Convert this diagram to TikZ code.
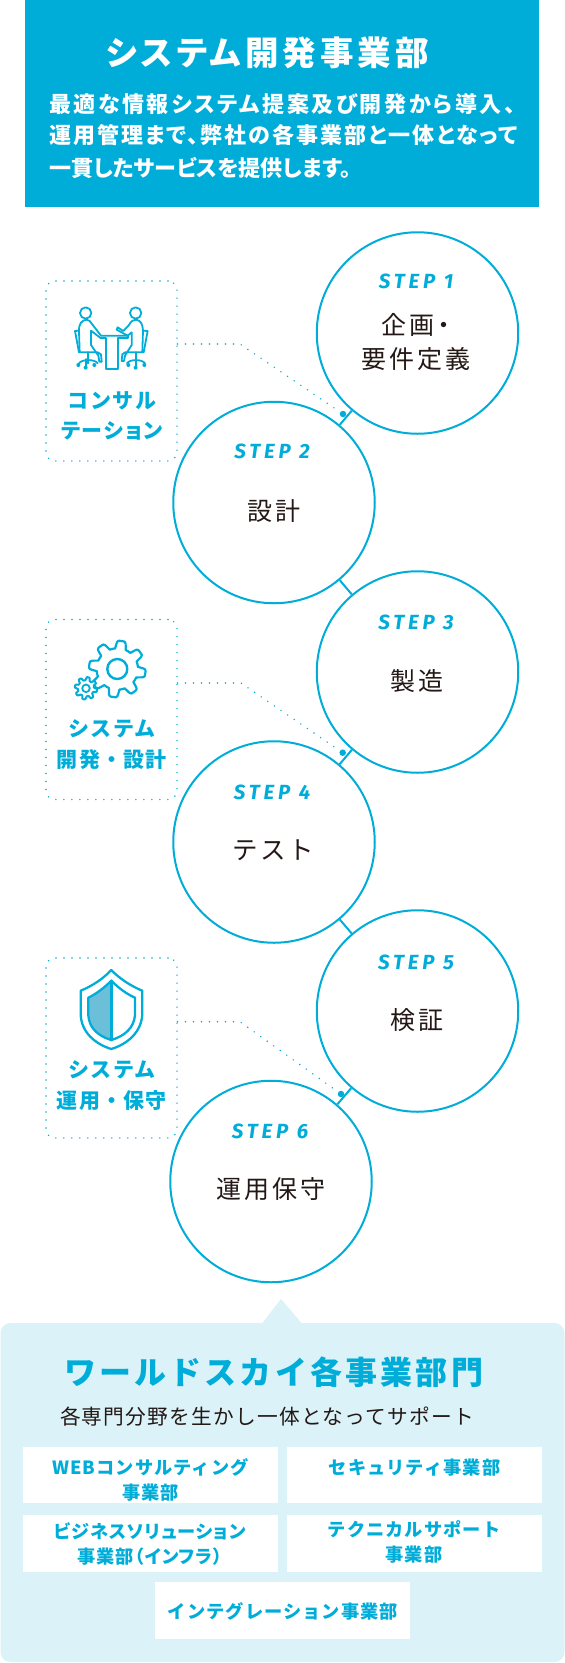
\documentclass[tikz,border=0pt]{standalone}
\usepackage{fontspec}
\setmainfont{Noto Sans CJK JP}
\newfontfamily\jpA[LetterSpace=6]{Noto Sans CJK JP}
\newfontfamily\jpB[LetterSpace=10]{Noto Sans CJK JP}
\newfontfamily\jpC[LetterSpace=8,RawFeature={+palt}]{Noto Sans CJK JP}
\newfontfamily\jpD[LetterSpace=12,RawFeature={+palt}]{Noto Sans CJK JP}
\newfontfamily\jpE[LetterSpace=11.5,RawFeature={+palt}]{Noto Sans CJK JP}
\newfontfamily\jpF[LetterSpace=9,RawFeature={+palt}]{Noto Sans CJK JP}
\newfontfamily\jpG[LetterSpace=0.5,RawFeature={+palt}]{Noto Sans CJK JP}
\newfontfamily\jpH[LetterSpace=5,RawFeature={+palt}]{Noto Sans CJK JP}
\newfontfamily\stepf[LetterSpace=19]{Fira Sans}
\definecolor{wcyan}{HTML}{00ADD9}
\definecolor{wpale}{HTML}{DAF2F8}
\definecolor{wink}{HTML}{231815}
\definecolor{wshield}{HTML}{6BBFD8}
\tikzset{
  stepcircle/.style={circle,draw=wcyan,line width=2pt,fill=white,minimum size=201.5pt,inner sep=0},
  steptag/.style={text=wcyan,font=\stepf\bfseries\itshape\fontsize{20.5}{24}\selectfont,inner sep=0},
  steptext/.style={text=wink,align=center,font=\jpD\fontsize{25}{34}\selectfont,inner sep=0},
  dotbox/.style={draw=wcyan,line width=1.6pt,line cap=round,dash pattern=on 0pt off 8pt,rounded corners=9pt,minimum width=131pt,minimum height=180pt,inner sep=0},
  dotline/.style={draw=wcyan,line width=1.6pt,line cap=round,dash pattern=on 0pt off 8pt},
  enddot/.style={circle,fill=wcyan,minimum size=6.5pt,inner sep=0},
  linkline/.style={draw=wcyan,line width=2pt},
  boxtext/.style={text=wcyan,align=center,font=\jpA\bfseries\fontsize{21}{30.5}\selectfont,inner sep=0},
  iconline/.style={draw=wcyan,line width=1.8pt,line join=round,line cap=round},
  whitebox/.style={fill=white,minimum width=255pt,minimum height=56.5pt,inner sep=0},
  depttext/.style={text=wcyan,align=center,font=\jpA\bfseries\fontsize{18.2}{25}\selectfont,inner sep=0},
  introtext/.style={text=white,align=left,anchor=west,font=\bfseries\fontsize{22}{32}\selectfont,inner sep=0},
}
\begin{document}
\begin{tikzpicture}[x=1pt,y=-1pt]
\useasboundingbox (0,0) rectangle (565,1663);
% header
\fill[wcyan] (25,0) rectangle (539,207);
\node[text=white,font=\jpD\bfseries\fontsize{33.5}{36}\selectfont,inner sep=0] (title) at (267.5,53) {システム開発事業部};
\node[introtext] (intro1) at (49,104.5) {\jpE\bfseries 最適な情報システム提案及び開発から導入、};
\node[introtext] (intro2) at (49,135.5) {\jpF\bfseries 運用管理まで、弊社の各事業部と一体となって};
\node[introtext] (intro3) at (49,167.5) {\jpG\bfseries 一貫したサービスを提供します。};
% circles
\node[stepcircle] (s1) at (417.5,333) {};
\node[stepcircle] (s2) at (274,502.5) {};
\node[stepcircle] (s3) at (417.5,672) {};
\node[stepcircle] (s4) at (274,842) {};
\node[stepcircle] (s5) at (417.5,1011) {};
\node[stepcircle] (s6) at (271,1181.5) {};
\draw[linkline] (s1) -- (s2);
\draw[linkline] (s2) -- (s3);
\draw[linkline] (s3) -- (s4);
\draw[linkline] (s4) -- (s5);
\draw[linkline] (s5) -- (s6);
\node[steptag] (t1) at (416,281.5) {STEP 1};
\node[steptag] (t2) at (272,451.5) {STEP 2};
\node[steptag] (t3) at (416,622.5) {STEP 3};
\node[steptag] (t4) at (272,792) {STEP 4};
\node[steptag] (t5) at (416,962) {STEP 5};
\node[steptag] (t6) at (270,1131) {STEP 6};
\node[steptext] (x1) at (416,342) {企画・\\要件定義};
\node[steptext] (x2) at (274,511.5) {設計};
\node[steptext] (x3) at (417,681) {製造};
\node[steptext,font=\jpB\fontsize{25.5}{34}\selectfont] (x4) at (273.5,850.5) {テスト};
\node[steptext] (x5) at (417,1020.5) {検証};
\node[steptext] (x6) at (271,1189.5) {運用保守};
% dotted boxes
\node[dotbox] (b1) at (111.5,371) {};
\node[dotbox] (b2) at (111.5,709.5) {};
\node[dotbox] (b3) at (111.5,1048) {};
\coordinate (l1) at (177.5,344);
\coordinate (k1) at (240,344);
\node[enddot] (d1) at (343,414) {};
\coordinate (l2) at (177.5,683);
\coordinate (k2) at (241,683);
\node[enddot] (d2) at (342.7,752.7) {};
\coordinate (l3) at (177.5,1021.7);
\coordinate (k3) at (240,1021.7);
\node[enddot] (d3) at (341,1094) {};
\draw[dotline] (l1) -- (k1) -- (d1);
\draw[dotline] (l2) -- (k2) -- (d2);
\draw[dotline] (l3) -- (k3) -- (d3);
\node[boxtext] (c1) at (112,416) {{\jpD\bfseries コンサル}\\{\jpC\bfseries テーション}};
\node[boxtext] (c2) at (112,744.5) {{\jpD\bfseries\addfontfeature{LetterSpace=14} システム}\\開発・設計};
\node[boxtext] (c3) at (112,1085.5) {{\jpD\bfseries\addfontfeature{LetterSpace=14} システム}\\運用・保守};
% people icon (coordinates in 1/3 px of the crop at 65,295)
\begin{scope}[shift={(65,295)},x=0.3333pt,y=-0.3333pt,iconline]
  \draw (62,54) circle (17);
  \draw (212,54) circle (17);
  % left person
  \draw (42,107) .. controls (42,85) and (50,76) .. (65,74) -- (74,78) -- (108,122) -- (188,122);
  \draw (42,107) -- (44,172) -- (98,172) -- (108,178) -- (110,200) -- (103,200) -- (100,182) -- (78,150) -- (78,107) -- (108,130);
  \draw (42,107) -- (30,108) -- (42,172);
  \draw (70,172) -- (70,205);
  \draw (42,205) .. controls (50,192) and (90,192) .. (98,205);
  \draw (62,192) -- (62,218);
  \fill[wcyan] (40,210) circle (6) (62,218) circle (6) (88,210) circle (6);
  % table
  \draw (108,130) -- (122,130) -- (122,222) -- (158,222) -- (158,130) -- (188,130) -- (188,122);
  % right person
  \draw (158,97) -- (175,108) -- (192,90) .. controls (198,78) and (205,74) .. (213,74) .. controls (228,76) and (233,88) .. (234,107);
  \draw (158,97) -- (155,104) -- (188,122);
  \draw (234,107) -- (232,172) -- (180,172) -- (172,178) -- (170,198) -- (177,198) -- (180,182) -- (200,150) -- (200,112) -- (188,122);
  \draw (234,107) -- (248,108) -- (236,172);
  \draw (212,172) -- (212,205);
  \draw (186,205) .. controls (194,192) and (232,192) .. (240,205);
  \draw (212,192) -- (212,218);
  \fill[wcyan] (190,210) circle (6) (212,218) circle (6) (238,210) circle (6);
\end{scope}
% gears
\begin{scope}[shift={(117.3,669)}]
  \draw[iconline,line width=2.2pt] plot[smooth cycle,domain=0:357,samples=120,variable=\t] ({(24.5+3.8*max(-1,min(1,2.2*sin(8*\t+20))))*cos(\t)},{(24.5+3.8*max(-1,min(1,2.2*sin(8*\t+20))))*sin(\t)});
  \draw[iconline,line width=2.4pt] (0,0) circle (10);
\end{scope}
\begin{scope}[shift={(86,688.3)}]
  \draw[iconline,line width=2pt,fill=white] plot[smooth cycle,domain=0:355,samples=72,variable=\t] ({(9.6+1.6*max(-1,min(1,2.2*sin(8*\t))))*cos(\t)},{(9.6+1.6*max(-1,min(1,2.2*sin(8*\t))))*sin(\t)});
  \draw[iconline,line width=1.8pt] (0,0) circle (3.8);
\end{scope}
% shield
\fill[wshield] (111.3,980.7) .. controls (104,988) and (96,994) .. (88.3,997.7) -- (88.3,1015) .. controls (89,1028) and (98,1036) .. (111.3,1040) -- cycle;
\draw[iconline,line width=2.3pt] (111.3,970) .. controls (103,979) and (92,986) .. (80.7,990.7) -- (80.7,1014) .. controls (81,1032) and (95,1044) .. (111.3,1049) .. controls (127.6,1044) and (141.6,1032) .. (142.3,1014) -- (142.3,990.7) .. controls (131,986) and (120,979) .. (111.3,970) -- cycle;
\draw[iconline,line width=2.3pt] (111.3,980.7) .. controls (104,988) and (96,994) .. (88.3,997.7) -- (88.3,1015) .. controls (89,1028) and (98,1036) .. (111.3,1040) .. controls (124.6,1036) and (134,1028) .. (135,1015) -- (135,997.7) .. controls (126.6,994) and (118.6,988) .. (111.3,980.7) -- cycle;
\draw[iconline,line width=2.8pt] (111.3,980.7) -- (111.3,1040);
% bottom panel
\fill[wpale,rounded corners=10pt] (0.5,1323) rectangle (564.5,1662);
\fill[wpale] (262,1323.5) -- (281,1299) -- (302,1323.5) -- cycle;
\node[text=wcyan,font=\jpB\bfseries\fontsize{32}{36}\selectfont,inner sep=0] (dt) at (273.6,1372) {ワールドスカイ各事業部門};
\node[text=wink,font=\jpA\fontsize{20.7}{26}\selectfont,inner sep=0] (ds) at (267,1416.5) {各専門分野を生かし一体となってサポート};
\node[whitebox] (w1) at (150.5,1474.8) {};
\node[whitebox] (w2) at (414,1474.8) {};
\node[whitebox] (w3) at (150.5,1543.3) {};
\node[whitebox] (w4) at (414,1543.3) {};
\node[whitebox] (w5) at (282.5,1610.5) {};
\node[depttext] (e1) at (150.5,1479.5) {WEBコンサルティング\\事業部};
\node[depttext] (e2) at (414.5,1468) {セキュリティ事業部};
\node[depttext] (e3) at (150,1543.5) {{\jpH\bfseries ビジネスソリューション}\\{\jpH\bfseries 事業部（インフラ）}};
\node[depttext] (e4) at (414,1541.5) {テクニカルサポート\\事業部};
\node[depttext] (e5) at (283,1611) {インテグレーション事業部};
\end{tikzpicture}
\end{document}
